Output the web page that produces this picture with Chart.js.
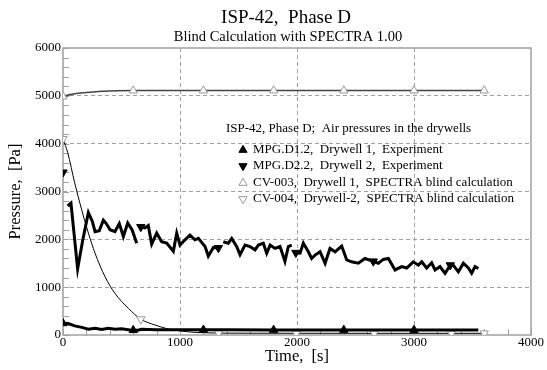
<!DOCTYPE html>
<html><head><meta charset="utf-8">
<script src="https://cdn.jsdelivr.net/npm/chart.js@4/dist/chart.umd.min.js"></script>
<style>html,body{margin:0;padding:0;background:#fff}#wrap{width:547px;height:370px;position:relative}</style>
</head><body><div id="wrap"><canvas id="c" width="547" height="370"></canvas></div>
<script>
const titleText = 'ISP-42,  Phase D';
const subtitleText = 'Blind Calculation with SPECTRA 1.00';
const xAxisTitle = 'Time,  [s]';
const yAxisTitle = 'Pressure,  [Pa]';
const legendTitle = 'ISP-42, Phase D;  Air pressures in the drywells';
const seriesLabels = [
  'MPG.D1.2,  Drywell 1,  Experiment',
  'MPG.D2.2,  Drywell 2,  Experiment',
  'CV-003,  Drywell 1,  SPECTRA blind calculation',
  'CV-004,  Drywell-2,  SPECTRA blind calculation'
];
const xRange = [0, 4000];
const yRange = [0, 6000];
const xMajorStep = 1000, yMajorStep = 1000, minorStep = 200;

// MPG.D1.2 (experiment, drywell 1)
const d1Time = [0, 45, 100, 160, 217, 274, 330, 387, 444, 501, 572, 600, 640, 672, 800, 1000, 1200, 1400, 1800, 2400, 3000, 3550];
const d1Pa   = [245, 240, 190, 160, 120, 140, 115, 140, 118, 132, 105, 100, 100, 118, 110, 110, 108, 108, 106, 106, 105, 105];
const d1Marks = [0, 600, 1200, 1800, 2400, 3000];

// MPG.D2.2 (experiment, drywell 2); null = gap in record
const d2Time = [0, 20, 40, 68, 125, 170, 217, 250, 274, 310, 345, 370, 402, 444, 481, 516, 553, 590, 630, 645,
  665, 700, 729, 758, 801, 843, 886, 943, 972, 1000, 1043, 1085, 1128, 1157, 1214, 1242, 1285, 1328, 1350,
  1370, 1413, 1442, 1484, 1513, 1556, 1598, 1641, 1670, 1712, 1741, 1770, 1812, 1855, 1897, 1926, 1955, 1972,
  1990, 2026, 2054, 2097, 2125, 2154, 2197, 2240, 2282, 2325, 2382, 2425, 2467, 2524, 2581, 2652, 2695, 2738,
  2781, 2838, 2895, 2937, 2994, 3037, 3066, 3108, 3151, 3180, 3222, 3265, 3310, 3336, 3379, 3422, 3465, 3493, 3522, 3550];
const d2Pa = [3400, null, 2700, 2760, 1380, 2000, 2560, 2380, 2160, 2180, 2400, 2330, 2200, 2160, 2330, 2060, 2340, 2200, 1920, null,
  2260, 2240, 2290, 1900, 2130, 1950, 1920, 1750, 2130, 1880, 1990, 2090, 1990, 2020, 1850, 1650, 1830, 1820, null,
  1950, 1920, 2020, 1850, 1680, 1880, 1850, 1780, 1880, 1920, 1710, 1880, 1810, 1850, 1540, 1850, 1880, null,
  1720, 1710, 1920, 1740, 1600, 1670, 1740, 1500, 1810, 1740, 1860, 1570, 1530, 1500, 1600, 1540, 1500, 1580,
  1600, 1360, 1430, 1400, 1530, 1460, 1530, 1400, 1510, 1360, 1430, 1290, 1460, 1460, 1320, 1500, 1400, 1290, 1430, 1390];
const d2Marks = [0, 665, 1328, 1990, 2652, 3310];

// CV-003 (SPECTRA, drywell 1)
const cv3Time = [0, 50, 100, 200, 300, 400, 600, 1200, 1800, 2400, 3000, 3600];
const cv3Pa   = [4985, 5020, 5045, 5070, 5090, 5100, 5110, 5110, 5110, 5110, 5110, 5110];
const cv3Marks = [0, 600, 1200, 1800, 2400, 3000, 3600];

// CV-004 (SPECTRA, drywell 2)
const cv4Time = [0, 40, 100, 160, 217, 274, 359, 444, 558, 665, 786, 900, 1000, 1100, 1200, 1330, 1995, 2660, 3320, 3600];
const cv4Pa   = [4100, 3815, 3180, 2615, 2130, 1710, 1220, 870, 560, 330, 210, 125, 85, 60, 48, 40, 36, 35, 35, 35];
const cv4Marks = [0, 665, 1330, 1995, 2660, 3320, 3600];

const SERIF = '"Liberation Serif", "DejaVu Serif", serif';
const GRID = '#a0a0a0';

function pts(T, V) { return T.map((t, i) => ({x: t, y: V[i]})); }
function markRadius(marks, r) { return ctx => (ctx.raw && marks.includes(ctx.raw.x)) ? r : 0; }

function triPath(ctx, x, y, r, rotDeg) {
  let rad = rotDeg * Math.PI / 180;
  ctx.beginPath();
  ctx.moveTo(x + Math.sin(rad) * r, y - Math.cos(rad) * r);
  rad += 2 * Math.PI / 3;
  ctx.lineTo(x + Math.sin(rad) * r, y - Math.cos(rad) * r);
  rad += 2 * Math.PI / 3;
  ctx.lineTo(x + Math.sin(rad) * r, y - Math.cos(rad) * r);
  ctx.closePath();
}

const legendStyles = [
  {rot: 0, fill: '#000', stroke: '#000'},
  {rot: 180, fill: '#000', stroke: '#000'},
  {rot: 0, fill: '#fff', stroke: '#999'},
  {rot: 180, fill: '#fff', stroke: '#999'}
];

const decor = {
  id: 'decor',
  beforeDatasetsDraw(chart) {
    const {ctx, chartArea: a, scales} = chart;
    ctx.save();
    ctx.strokeStyle = GRID;
    ctx.lineWidth = 1;
    ctx.setLineDash([]);
    ctx.beginPath();
    for (let v = yRange[0]; v <= yRange[1]; v += minorStep) {
      const y = Math.round(scales.y.getPixelForValue(v)) + 0.5;
      ctx.moveTo(a.left, y); ctx.lineTo(a.left + 6, y);
    }
    for (let v = xRange[0]; v <= xRange[1]; v += minorStep) {
      const x = Math.round(scales.x.getPixelForValue(v)) + 0.5;
      ctx.moveTo(x, a.bottom); ctx.lineTo(x, a.bottom - 6);
    }
    ctx.stroke();
    ctx.lineWidth = 1.5;
    ctx.strokeRect(a.left, a.top, a.right - a.left, a.bottom - a.top);
    ctx.restore();
  },
  afterDraw(chart) {
    const {ctx} = chart;
    ctx.save();
    ctx.fillStyle = '#000';
    ctx.textAlign = 'center';
    ctx.textBaseline = 'middle';
    ctx.font = '19px ' + SERIF;
    ctx.fillText(titleText, 286, 18);
    ctx.font = '14.5px ' + SERIF;
    ctx.fillText(subtitleText, 288, 37);
    ctx.textAlign = 'left';
    ctx.font = '13px ' + SERIF;
    ctx.fillText(legendTitle, 226, 129);
    const rows = [150, 166, 183, 199];
    seriesLabels.forEach((lab, i) => {
      const s = legendStyles[i];
      triPath(ctx, 243, rows[i], 4.7, s.rot);
      ctx.fillStyle = s.fill; ctx.fill();
      ctx.strokeStyle = s.stroke; ctx.lineWidth = 1; ctx.stroke();
      ctx.fillStyle = '#000';
      ctx.fillText(lab, 253, rows[i]);
    });
    ctx.restore();
  }
};

const gridColor = (max) => (c) => (c.tick && (c.tick.value === 0 || c.tick.value === max)) ? 'rgba(0,0,0,0)' : GRID;
const plainTick = v => String(v);

new Chart(document.getElementById('c'), {
  type: 'line',
  data: {
    datasets: [
      {label: seriesLabels[0], data: pts(d1Time, d1Pa), borderColor: '#000', borderWidth: 3,
       pointStyle: 'triangle', pointRadius: markRadius(d1Marks, 4.8), pointBackgroundColor: '#000', pointBorderColor: '#000', pointBorderWidth: 1, spanGaps: false},
      {label: seriesLabels[1], data: pts(d2Time, d2Pa), borderColor: '#000', borderWidth: 3,
       pointStyle: 'triangle', pointRotation: 180, pointRadius: markRadius(d2Marks, 4.8), pointBackgroundColor: '#000', pointBorderColor: '#000', pointBorderWidth: 1, spanGaps: false},
      {label: seriesLabels[2], data: pts(cv3Time, cv3Pa), borderColor: '#444', borderWidth: 1.6, cubicInterpolationMode: 'monotone',
       pointStyle: 'triangle', pointRadius: markRadius(cv3Marks, 4.8), pointBackgroundColor: '#fff', pointBorderColor: '#999', pointBorderWidth: 1},
      {label: seriesLabels[3], data: pts(cv4Time, cv4Pa), borderColor: '#000', borderWidth: 1, cubicInterpolationMode: 'monotone',
       pointStyle: 'triangle', pointRotation: 180, pointRadius: markRadius(cv4Marks, 4.8), pointBackgroundColor: '#fff', pointBorderColor: '#999', pointBorderWidth: 1}
    ]
  },
  options: {
    responsive: false,
    animation: false,
    devicePixelRatio: 1,
    layout: {padding: {top: 48, right: 16, left: 0, bottom: 0}},
    plugins: {legend: {display: false}, title: {display: false}, tooltip: {enabled: false}},
    scales: {
      x: {
        type: 'linear', min: xRange[0], max: xRange[1],
        afterFit: s => { s.height = 35; },
        ticks: {stepSize: xMajorStep, callback: plainTick, color: '#000', font: {family: SERIF, size: 13}, padding: 0, maxRotation: 0},
        grid: {color: gridColor(xRange[1]), drawTicks: false, lineWidth: 1},
        border: {display: false, dash: [4, 3]},
        title: {display: true, text: xAxisTitle, color: '#000', font: {family: SERIF, size: 16.5}, padding: {top: 0, bottom: 3}}
      },
      y: {
        type: 'linear', min: yRange[0], max: yRange[1],
        afterFit: s => { s.width = 63; },
        ticks: {stepSize: yMajorStep, callback: plainTick, color: '#000', font: {family: SERIF, size: 13}, padding: 2},
        grid: {color: gridColor(yRange[1]), drawTicks: false, lineWidth: 1},
        border: {display: false, dash: [4, 3]},
        title: {display: true, text: yAxisTitle, color: '#000', font: {family: SERIF, size: 16.5}, padding: {top: 6, bottom: 0}}
      }
    }
  },
  plugins: [decor]
});
</script>
</body></html>
